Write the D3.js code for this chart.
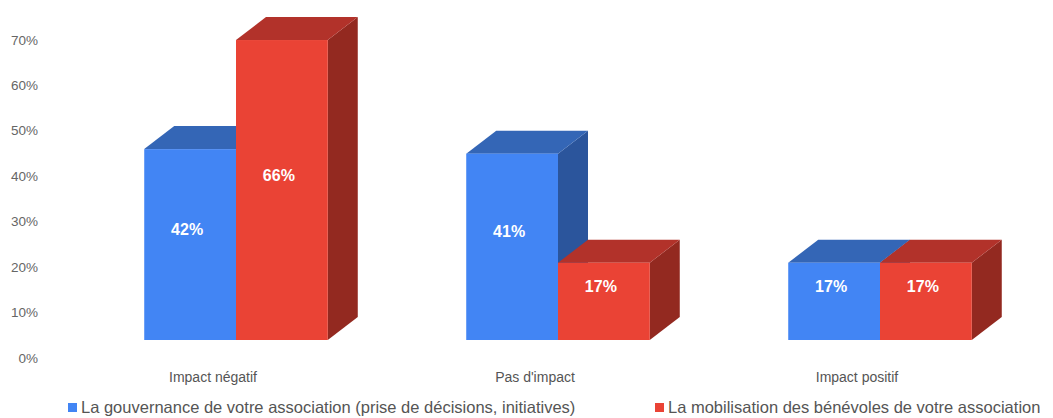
<!DOCTYPE html>
<html>
<head>
<meta charset="utf-8">
<script src="https://cdn.jsdelivr.net/npm/d3@7"></script>
<style>
  body { margin: 0; background: #fff; }
  text { font-family: "Liberation Sans", Arial, sans-serif; }
</style>
</head>
<body>
<div id="chart-area"></div>
<script>

// data
let categories = ["Impact négatif", "Pas d'impact", "Impact positif"];
let seriesNames = [
    "La gouvernance de votre association (prise de décisions, initiatives)",
    "La mobilisation des bénévoles de votre association"
];
let gouvernance = [42, 41, 17];
let mobilisation = [66, 17, 17];
let yTicks = [0, 10, 20, 30, 40, 50, 60, 70];

let width = 1053, height = 418;

// colours: front, top, side
let palette = [
    {front: "#4285f4", top: "#3466b6", side: "#2b559c"},
    {front: "#ea4335", top: "#b2322a", side: "#932920"}
];

// oblique depth of the boxes
let dx = 30, dy = -23;

let svg = d3.select("#chart-area").append("svg")
    .attr("width", width)
    .attr("height", height);

svg.append("rect").attr("width", width).attr("height", height).attr("fill", "#fff");

// Scales
let x = d3.scaleBand()
    .domain(categories)
    .range([75, 1041])
    .paddingInner(0.43)
    .paddingOuter(0.215);

let xs = d3.scaleBand()
    .domain([0, 1])
    .range([0, x.bandwidth()]);

let y = d3.scaleLinear()
    .domain([0, 70])
    .range([340, 340 - 70 * 4.545]);

// y tick labels (they sit a bit below the front plane)
svg.append("g").selectAll("text")
    .data(yTicks)
    .enter().append("text")
    .attr("x", 38)
    .attr("y", d => y(d) + 18)
    .attr("dy", "0.35em")
    .attr("text-anchor", "end")
    .attr("font-size", 13.5)
    .attr("fill", "#666")
    .text(d => d + "%");

// category labels
svg.append("g").selectAll("text")
    .data(categories)
    .enter().append("text")
    .attr("x", d => x(d) + x.bandwidth() / 2 - 23)
    .attr("y", 377)
    .attr("dy", "0.35em")
    .attr("text-anchor", "middle")
    .attr("font-size", 14)
    .attr("fill", "#555")
    .text(d => d);

// flatten bars, blue before red in each group so red overlays blue's side
let bars = [];
categories.forEach((c, i) => {
    [gouvernance, mobilisation].forEach((s, k) => {
        bars.push({cat: c, s: k, v: s[i]});
    });
});

let g = svg.append("g");

bars.forEach(d => {
    let x0 = x(d.cat) + xs(d.s), x1 = x0 + xs.bandwidth();
    let y0 = y(0), y1 = y(d.v);
    let col = palette[d.s];
    // side
    g.append("polygon")
        .attr("points", [[x1, y1], [x1 + dx, y1 + dy], [x1 + dx, y0 + dy], [x1, y0]].join(" "))
        .attr("fill", col.side);
    // top
    g.append("polygon")
        .attr("points", [[x0, y1], [x0 + dx, y1 + dy], [x1 + dx, y1 + dy], [x1, y1]].join(" "))
        .attr("fill", col.top);
    // front
    g.append("rect")
        .attr("x", x0)
        .attr("y", y1)
        .attr("width", x1 - x0)
        .attr("height", y0 - y1)
        .attr("fill", col.front);
    // value label
    g.append("text")
        .attr("x", (x0 + x1) / 2 - 3)
        .attr("y", (y0 + y1) / 2 - 15)
        .attr("dy", "0.35em")
        .attr("text-anchor", "middle")
        .attr("font-size", 16)
        .attr("font-weight", "bold")
        .attr("fill", "#fff")
        .text(d.v + "%");
});

// legend
let legendX = [68, 655];
let legend = svg.append("g").selectAll("g")
    .data(seriesNames)
    .enter().append("g")
    .attr("transform", (d, i) => "translate(" + legendX[i] + ",0)");

legend.append("rect")
    .attr("x", 0)
    .attr("y", 403)
    .attr("width", 9)
    .attr("height", 9)
    .attr("fill", (d, i) => palette[i].front);

legend.append("text")
    .attr("x", 13)
    .attr("y", 407.5)
    .attr("dy", "0.35em")
    .attr("font-size", 16.5)
    .attr("fill", "#555")
    .text(d => d);

</script>
</body>
</html>
